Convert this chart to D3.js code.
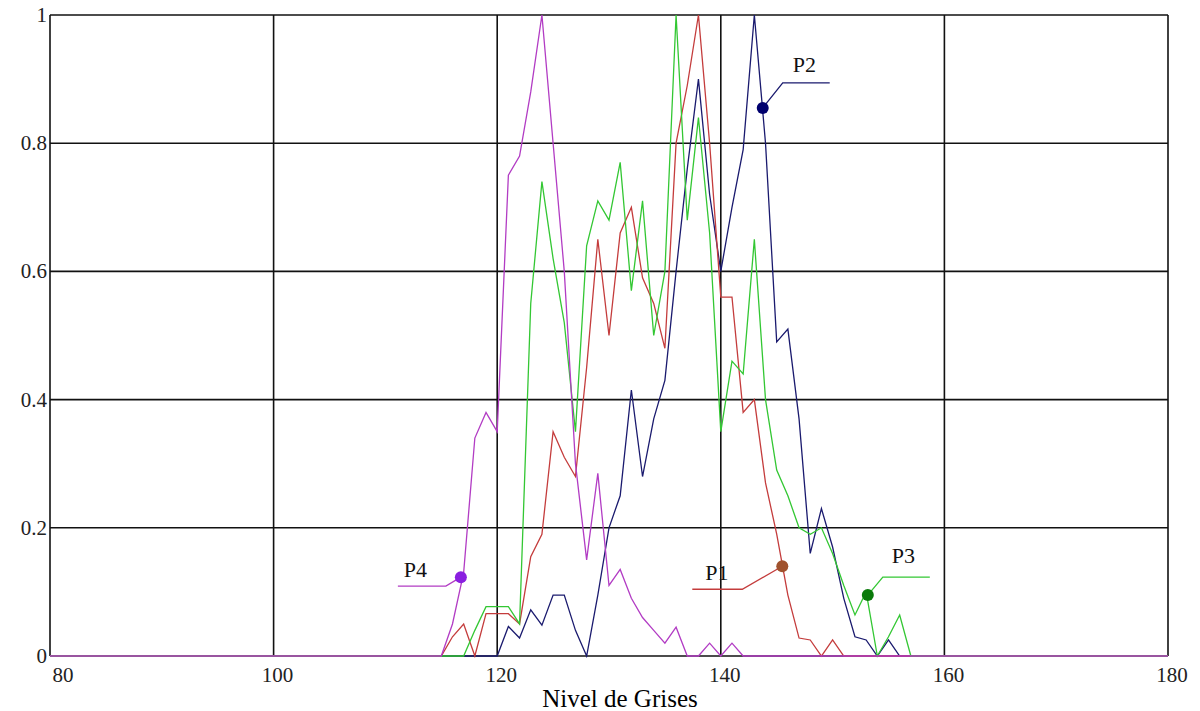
<!DOCTYPE html>
<html>
<head>
<meta charset="utf-8">
<script src="https://cdn.jsdelivr.net/npm/d3@7"></script>
<style>
  html, body { margin: 0; padding: 0; background: #fff; }
  svg { display: block; }
</style>
</head>
<body>
<div id="chart"></div>
<script>
// gray levels (x) and normalised histograms
const grayLevels = [80, 114, 115, 116, 117, 118, 119, 120, 121, 122, 123, 124, 125, 126, 127, 128, 129,
  130, 131, 132, 133, 134, 135, 136, 137, 138, 139, 140, 141, 142, 143, 144, 145, 146, 147, 148, 149,
  150, 151, 152, 153, 154, 155, 156, 157, 180];

const p1 = [0, 0, 0, 0.03, 0.05, 0, 0.066, 0.066, 0.066, 0.05, 0.155, 0.19, 0.35, 0.31, 0.28, 0.45, 0.65,
  0.5, 0.66, 0.7, 0.59, 0.55, 0.48, 0.8, 0.89, 1.0, 0.8, 0.56, 0.56, 0.38, 0.4, 0.27, 0.19, 0.095, 0.028, 0.025, 0,
  0.025, 0, 0, 0, 0, 0, 0, 0, 0];

const p2 = [0, 0, 0, 0, 0, 0, 0, 0, 0.046, 0.028, 0.072, 0.048, 0.095, 0.095, 0.04, 0, 0.095,
  0.2, 0.25, 0.415, 0.28, 0.37, 0.43, 0.6, 0.76, 0.9, 0.72, 0.6, 0.7, 0.79, 1.0, 0.8, 0.49, 0.51, 0.37, 0.16, 0.23,
  0.17, 0.09, 0.03, 0.025, 0, 0.025, 0, 0, 0];

const p3 = [0, 0, 0, 0, 0, 0.04, 0.077, 0.077, 0.077, 0.05, 0.55, 0.74, 0.62, 0.52, 0.35, 0.64, 0.71,
  0.68, 0.77, 0.57, 0.71, 0.5, 0.6, 1.0, 0.68, 0.84, 0.66, 0.35, 0.46, 0.44, 0.65, 0.4, 0.29, 0.25, 0.2, 0.19, 0.2,
  0.16, 0.11, 0.064, 0.1, 0, 0.03, 0.064, 0, 0];

const p4 = [0, 0, 0, 0.05, 0.13, 0.34, 0.38, 0.35, 0.75, 0.78, 0.88, 1.0, 0.8, 0.6, 0.3, 0.15, 0.285,
  0.11, 0.135, 0.09, 0.06, 0.04, 0.02, 0.045, 0, 0, 0.02, 0, 0.02, 0, 0, 0, 0, 0, 0, 0, 0,
  0, 0, 0, 0, 0, 0, 0, 0, 0];

const xTicks = [80, 100, 120, 140, 160, 180];
const yTicks = [0, 0.2, 0.4, 0.6, 0.8, 1];
const xTitle = "Nivel de Grises";

// marker points on each curve, in data units
const markers = [
  { name: "P1", gx: 145.5, gy: 0.14 },
  { name: "P2", gx: 143.75, gy: 0.855 },
  { name: "P3", gx: 153.15, gy: 0.095 },
  { name: "P4", gx: 116.75, gy: 0.123 }
];

const width = 1200, height = 711;
const plotLeft = 50, plotRight = 1168, plotTop = 15, plotBottom = 656;

const x = d3.scaleLinear().domain([80, 180]).range([plotLeft, plotRight]);
const y = d3.scaleLinear().domain([0, 1]).range([plotBottom, plotTop]);

const svg = d3.select("#chart").append("svg")
  .attr("width", width)
  .attr("height", height);

// grid
svg.append("g").selectAll("line")
  .data(xTicks)
  .enter().append("line")
  .attr("x1", d => x(d)).attr("x2", d => x(d))
  .attr("y1", plotTop).attr("y2", plotBottom)
  .attr("stroke", "#111").attr("stroke-width", 1.6);

svg.append("g").selectAll("line")
  .data(yTicks)
  .enter().append("line")
  .attr("x1", plotLeft).attr("x2", plotRight)
  .attr("y1", d => y(d)).attr("y2", d => y(d))
  .attr("stroke", "#111").attr("stroke-width", 1.6);

// tick labels
svg.append("g").selectAll("text")
  .data(yTicks)
  .enter().append("text")
  .attr("x", plotLeft - 3)
  .attr("y", d => y(d) + 7)
  .attr("text-anchor", "end")
  .attr("font-family", "Liberation Serif, serif")
  .attr("font-size", "21px")
  .attr("fill", "#222")
  .text(d => d3.format("~g")(d));

svg.append("g").selectAll("text")
  .data(xTicks)
  .enter().append("text")
  .attr("x", (d, i) => x(d) + (i === 0 ? 13 : 4))
  .attr("y", 682)
  .attr("text-anchor", "middle")
  .attr("font-family", "Liberation Serif, serif")
  .attr("font-size", "21px")
  .attr("fill", "#222")
  .text(d => d);

svg.append("text")
  .attr("x", 620)
  .attr("y", 707)
  .attr("text-anchor", "middle")
  .attr("font-family", "Liberation Serif, serif")
  .attr("font-size", "25px")
  .attr("fill", "#000")
  .text(xTitle);

// curves
const series = [
  { name: "P2", values: p2, color: "#1a1a6e", mark: "#00006e" },
  { name: "P1", values: p1, color: "#c43c3c", mark: "#a0522d" },
  { name: "P3", values: p3, color: "#33c733", mark: "#0a7a0a" },
  { name: "P4", values: p4, color: "#b23cc4", mark: "#8a1fe0" }
];

const line = d3.line()
  .x((d, i) => x(grayLevels[i]))
  .y(d => y(d));

svg.append("g").selectAll("path")
  .data(series)
  .enter().append("path")
  .attr("fill", "none")
  .attr("stroke", d => d.color)
  .attr("stroke-width", 1.3)
  .attr("d", d => line(d.values));

// leader lines and labels (pixel offsets from the marker)
const layout = {
  P1: { knee: [-40, 23], end: [-90, 23], text: [-77, 14] },
  P2: { knee: [20, -25], end: [67, -25], text: [30, -36] },
  P3: { knee: [15, -18], end: [62, -18], text: [24, -32] },
  P4: { knee: [-15, 9], end: [-63, 9], text: [-57, 0] }
};

markers.forEach(m => {
  const s = series.find(d => d.name === m.name);
  const mx = x(m.gx), my = y(m.gy);
  const o = layout[m.name];
  svg.append("polyline")
    .attr("points", [[mx, my], [mx + o.knee[0], my + o.knee[1]], [mx + o.end[0], my + o.end[1]]].join(" "))
    .attr("fill", "none")
    .attr("stroke", s.color)
    .attr("stroke-width", 1.3);
  svg.append("circle")
    .attr("cx", mx).attr("cy", my).attr("r", 6)
    .attr("fill", s.mark);
  svg.append("text")
    .attr("x", mx + o.text[0])
    .attr("y", my + o.text[1])
    .attr("font-family", "Liberation Serif, serif")
    .attr("font-size", "22px")
    .attr("fill", "#111")
    .text(m.name);
});
</script>
</body>
</html>
